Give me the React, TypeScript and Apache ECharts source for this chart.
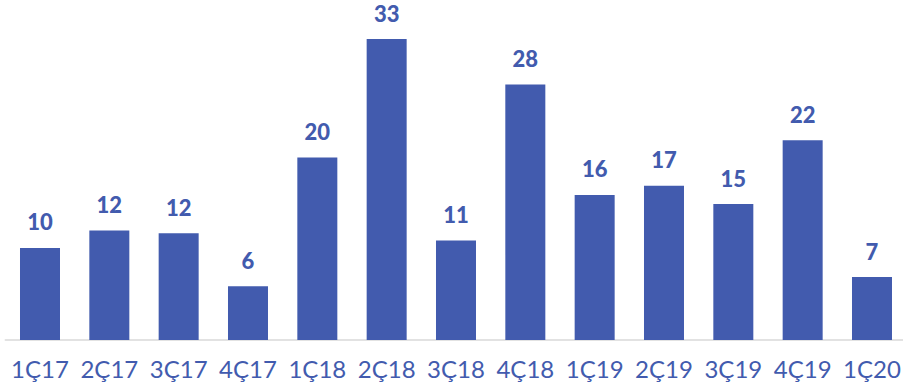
import React, { useEffect, useRef } from "react";
import * as echarts from "echarts";

const categories = ["1Ç17", "2Ç17", "3Ç17", "4Ç17", "1Ç18", "2Ç18", "3Ç18", "4Ç18", "1Ç19", "2Ç19", "3Ç19", "4Ç19", "1Ç20"];
const values = [10.1, 12.0, 11.7, 5.9, 20.0, 33.0, 10.9, 28.0, 15.9, 16.9, 14.9, 21.9, 6.9];

const BLUE = "#425BAE";

export default function App() {
  const ref = useRef<HTMLDivElement>(null);
  useEffect(() => {
    if (!ref.current) return;
    const chart = echarts.init(ref.current, undefined, { renderer: "svg" });
    chart.setOption({
      animation: false,
      grid: { left: 5.33, width: 901.33, top: 39, height: 301, containLabel: false },
      xAxis: {
        type: "category",
        data: categories,
        axisLine: { lineStyle: { color: "#d9d9d9", width: 1.5 } },
        axisTick: { show: false },
        axisLabel: {
          color: BLUE,
          fontFamily: "Lato",
          fontSize: 24,
          margin: 16,
          interval: 0,
        },
      },
      yAxis: {
        type: "value",
        min: 0,
        max: 33,
        show: false,
        splitLine: { show: false },
      },
      series: [
        {
          type: "bar",
          data: values,
          barWidth: 40,
          itemStyle: { color: BLUE },
          label: {
            show: true,
            position: "top",
            distance: 15,
            color: BLUE,
            fontFamily: "Lato",
            fontWeight: 900,
            fontSize: 22,
            formatter: (p: any) => String(Math.round(p.value)),
          },
        },
      ],
    });
    return () => chart.dispose();
  }, []);
  return (
    <div
      style={{ position: "absolute", left: 0, top: 0, width: 903, height: 390, overflow: "hidden" }}
    >
      <div ref={ref} style={{ width: 912, height: 390 }} />
    </div>
  );
}
